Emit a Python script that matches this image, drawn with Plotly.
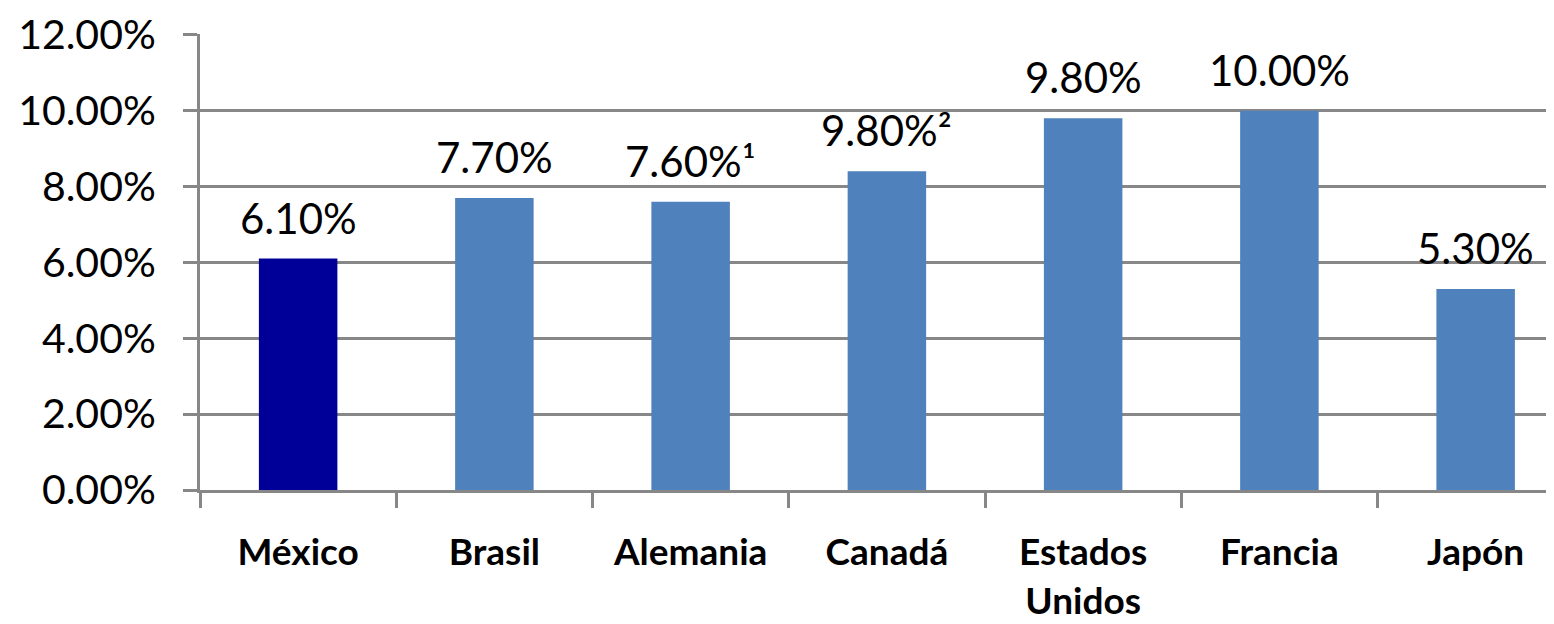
import plotly.graph_objects as go

categories = ["México", "Brasil", "Alemania", "Canadá", "Estados<br>Unidos", "Francia", "Japón"]
values = [6.1, 7.7, 7.6, 8.4, 9.8, 10.0, 5.3]
labels = ["6.10%", "7.70%", "7.60%¹", "9.80%²", "9.80%", "10.00%", "5.30%"]
bar_colors = ["#000099", "#4F81BD", "#4F81BD", "#4F81BD", "#4F81BD", "#4F81BD", "#4F81BD"]
y_ticks = [0, 2, 4, 6, 8, 10, 12]
y_ticktext = [f"{v:.2f}%" for v in y_ticks]

FONT = "Lato"
GRID = "#878787"

fig = go.Figure()
fig.add_trace(go.Bar(
    x=categories, y=values, marker=dict(color=bar_colors, line=dict(width=0)),
    width=0.4, hoverinfo="skip",
))

for c, v, t in zip(categories, values, labels):
    fig.add_annotation(x=c, y=v, text=t, showarrow=False, yanchor="bottom",
                       yshift=14, font=dict(family=FONT, size=42, color="#000000"))

fig.update_layout(
    width=1554, height=624,
    margin=dict(l=192, r=0, t=26, b=142),
    paper_bgcolor="white", plot_bgcolor="white",
    showlegend=False, bargap=0.6,
)
fig.update_yaxes(
    range=[0, 12.02], tickvals=y_ticks, ticktext=y_ticktext, automargin=False,
    showgrid=True, gridcolor=GRID, gridwidth=3,
    showline=True, linecolor=GRID, linewidth=3,
    ticks="outside", ticklen=14, tickwidth=3, tickcolor=GRID,
    tickfont=dict(family=FONT, size=41, color="#000000"),
    ticklabelstandoff=19, ticklabeloverflow="allow", zeroline=False,
)
fig.update_xaxes(
    range=[-0.5, 6.44], tickson="boundaries", automargin=False,
    showline=True, linecolor=GRID, linewidth=3,
    ticks="outside", ticklen=15, tickwidth=3, tickcolor=GRID,
    tickfont=dict(family=FONT, size=37, color="#000000", weight="bold"),
    ticklabelstandoff=28, ticklabeloverflow="allow", showgrid=False,
)

fig.write_html("out.html")
